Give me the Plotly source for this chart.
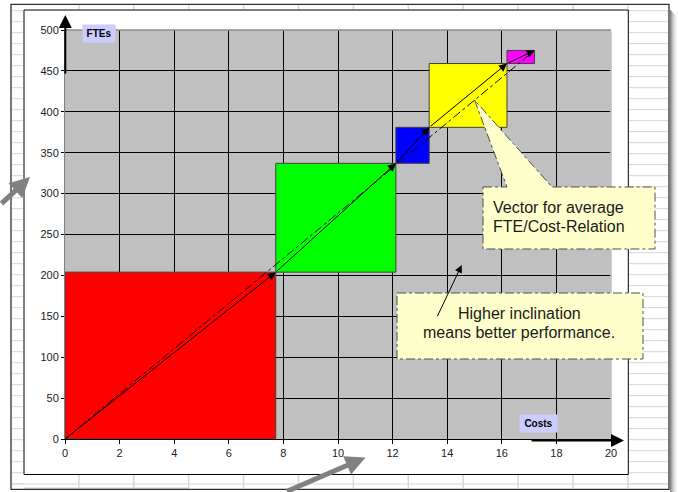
import plotly.graph_objects as go
import numpy as np

# ---- data ----
segment_costs = [7.72, 4.40, 1.22, 2.85, 1.01]
segment_ftes = [204, 133, 44, 78, 16]
segment_colors = ["#FF0000", "#00FF00", "#0000FF", "#FFFF00", "#FF00FF"]
x_ticks = list(range(0, 21, 2))
y_ticks = list(range(0, 501, 50))
x_label = "Costs"
y_label = "FTEs"
callout_avg = ["Vector for average", "FTE/Cost-Relation"]
callout_incl = ["Higher inclination", "means better performance."]

cum_x = np.concatenate([[0], np.cumsum(segment_costs)])
cum_y = np.concatenate([[0], np.cumsum(segment_ftes)])

# ---- figure geometry (pixel helpers for decorations) ----
W, H = 678, 492
L, T, PW, PH = 65, 30, 546, 409


def px(x):
    return (x - L) / PW


def py(y):
    return (T + PH - y) / PH


fig = go.Figure()

# rectangles
for i in range(len(segment_costs)):
    x0, x1 = cum_x[i], cum_x[i + 1]
    y0, y1 = cum_y[i], cum_y[i + 1]
    fig.add_trace(go.Scatter(
        x=[x0, x1, x1, x0, x0], y=[y0, y0, y1, y1, y0],
        mode="lines", fill="toself", fillcolor=segment_colors[i],
        line=dict(color="#404040", width=1), hoverinfo="skip", showlegend=False))

# average vector (dash-dot)
fig.add_trace(go.Scatter(
    x=[cum_x[0], cum_x[-1]], y=[cum_y[0], cum_y[-1]], mode="lines",
    line=dict(color="#111111", width=1, dash="dashdot"),
    hoverinfo="skip", showlegend=False))

annotations = []
# segment vectors
for i in range(len(segment_costs)):
    annotations.append(dict(
        x=cum_x[i + 1], y=cum_y[i + 1], ax=cum_x[i], ay=cum_y[i],
        xref="x", yref="y", axref="x", ayref="y", text="",
        showarrow=True, arrowhead=2, arrowsize=1.6, arrowwidth=1,
        arrowcolor="#000000"))

shapes = []
light = "#D6D6D6"
# spreadsheet background decorations
for yy in np.arange(10.7, 489, 11.0):
    shapes.append(dict(type="line", xref="paper", yref="paper",
                       x0=px(629), x1=px(668), y0=py(yy), y1=py(yy),
                       line=dict(color=light, width=1), layer="below"))
    shapes.append(dict(type="line", xref="paper", yref="paper",
                       x0=px(12), x1=px(23), y0=py(yy), y1=py(yy),
                       line=dict(color=light, width=1), layer="below"))
for xx in np.arange(24 + 54.9, 669, 54.9):
    shapes.append(dict(type="line", xref="paper", yref="paper",
                       x0=px(xx), x1=px(xx), y0=py(4.5), y1=py(9.5),
                       line=dict(color=light, width=1.5), layer="below"))
    shapes.append(dict(type="line", xref="paper", yref="paper",
                       x0=px(xx), x1=px(xx), y0=py(475), y1=py(488),
                       line=dict(color=light, width=1.5), layer="below"))
shapes.append(dict(type="line", xref="paper", yref="paper",
                   x0=px(12), x1=px(668), y0=py(484), y1=py(484),
                   line=dict(color=light, width=1), layer="below"))
# scrollbar-like strip
shapes.append(dict(type="rect", xref="paper", yref="paper",
                   x0=px(24), x1=px(189), y0=py(490), y1=py(487.5),
                   fillcolor="#D8D4CC", line=dict(width=0), layer="below"))
# shadow on the right
for k, c in enumerate(["#8A8A8A", "#A5A5A5", "#BDBDBD", "#D0D0D0", "#E0E0E0", "#EBEBEB", "#F4F4F4"]):
    shapes.append(dict(type="rect", xref="paper", yref="paper",
                       x0=px(670 + k), x1=px(671 + k), y0=py(10 + k), y1=py(492),
                       fillcolor=c, line=dict(width=0), layer="below"))
# outer frame
shapes.append(dict(type="rect", xref="paper", yref="paper",
                   x0=px(11), x1=px(669), y0=py(4.3), y1=py(489.3),
                   line=dict(color="#303030", width=1.3), layer="below"))
# chart area border
shapes.append(dict(type="rect", xref="paper", yref="paper",
                   x0=px(24), x1=px(628.3), y0=py(10), y1=py(474.5),
                   line=dict(color="#000000", width=1), layer="below"))

# top border of plot area in gray, hide right-edge grid line
shapes.append(dict(type="line", xref="paper", yref="paper",
                   x0=0, x1=1, y0=1, y1=1,
                   line=dict(color="#8C8C8C", width=1.5)))
shapes.append(dict(type="line", xref="paper", yref="paper",
                   x0=1, x1=1, y0=0.002, y1=0.997,
                   line=dict(color="#C0C0C0", width=1.5)))

# callout 1 (wedge + box)
c1 = [(483, 187), (507, 187), (474.5, 100), (552, 187), (655, 187), (655, 249), (483, 249)]
path1 = "M " + " L ".join(f"{px(a):.5f},{py(b):.5f}" for a, b in c1) + " Z"
shapes.append(dict(type="path", xref="paper", yref="paper", path=path1,
                   fillcolor="#FFFFCC", line=dict(color="#505050", width=1, dash="dashdot")))
# callout 2 box
shapes.append(dict(type="rect", xref="paper", yref="paper",
                   x0=px(397), x1=px(643), y0=py(293), y1=py(359),
                   fillcolor="#FFFFCC", line=dict(color="#505050", width=1, dash="dashdot")))

txt_font = dict(family="Liberation Sans, Arial, sans-serif", size=16, color="#1A1A1A")
lab_font = dict(family="Liberation Sans, Arial, sans-serif", size=10, color="#000")
annotations += [
    dict(xref="paper", yref="paper", x=px(491), y=py(207), text=callout_avg[0],
         showarrow=False, xanchor="left", yanchor="middle", font=txt_font),
    dict(xref="paper", yref="paper", x=px(491), y=py(226), text=callout_avg[1],
         showarrow=False, xanchor="left", yanchor="middle", font=txt_font),
    dict(xref="paper", yref="paper", x=px(519), y=py(313), text=callout_incl[0],
         showarrow=False, xanchor="center", yanchor="middle", font=txt_font),
    dict(xref="paper", yref="paper", x=px(519), y=py(332.5), text=callout_incl[1],
         showarrow=False, xanchor="center", yanchor="middle", font=txt_font),
    # inclination arrow
    dict(xref="paper", yref="paper", x=px(461.7), y=py(265), ax=-25, ay=52.7,
         text="", showarrow=True, arrowhead=2, arrowsize=1.5, arrowwidth=1,
         arrowcolor="#000000"),
    # axis labels
    dict(xref="paper", yref="paper", x=px(99), y=py(33.5), text=f"<b>{y_label}</b>",
         showarrow=False, bgcolor="#CCCCFF", width=32, height=17, borderpad=0,
         xanchor="center", yanchor="middle", font=lab_font),
    dict(xref="paper", yref="paper", x=px(538.6), y=py(423.3), text=f"<b>{x_label}</b>",
         showarrow=False, bgcolor="#CCCCFF", width=37, height=17, borderpad=0,
         xanchor="center", yanchor="middle", font=lab_font),
    # axis arrows
    dict(xref="paper", yref="paper", x=px(65.3), y=py(15), ax=0, ay=60, text="",
         showarrow=True, arrowhead=2, arrowsize=1.3, arrowwidth=2, arrowcolor="#000"),
    dict(xref="paper", yref="paper", x=px(624), y=py(440.5), ax=-94, ay=0, text="",
         showarrow=True, arrowhead=2, arrowsize=1.3, arrowwidth=2, arrowcolor="#000"),
    # big gray pointer arrows
    dict(xref="paper", yref="paper", x=px(30), y=py(177), ax=-36, ay=28, text="",
         showarrow=True, arrowhead=2, arrowsize=0.8, arrowwidth=5, arrowcolor="#808080"),
    dict(xref="paper", yref="paper", x=px(365.5), y=py(457.5), ax=-80, ay=37, text="",
         showarrow=True, arrowhead=2, arrowsize=0.8, arrowwidth=5, arrowcolor="#808080"),
]

tick_font = dict(family="Liberation Sans, Arial, sans-serif", size=11, color="#222222")
fig.update_layout(
    width=W, height=H, autosize=False,
    margin=dict(l=L, r=W - L - PW, t=T, b=H - T - PH, pad=0),
    paper_bgcolor="#FFFFFF", plot_bgcolor="#C0C0C0",
    showlegend=False,
    xaxis=dict(range=[0, 20], tickvals=x_ticks, showgrid=True, gridcolor="#000000",
               gridwidth=1, zeroline=False, showline=True, linecolor="#000000",
               linewidth=1, ticks="outside", ticklen=4, tickcolor="#000000",
               tickfont=tick_font, fixedrange=True),
    yaxis=dict(range=[0, 500], tickvals=y_ticks, showgrid=True, gridcolor="#000000",
               gridwidth=1, zeroline=False, showline=True, linecolor="#808080",
               linewidth=1, ticks="outside", ticklen=3, tickcolor="#000000",
               tickfont=tick_font, fixedrange=True),
    shapes=shapes,
    annotations=annotations,
)

fig.write_html("out.html", config={"displayModeBar": False},
               post_script="document.body.style.margin='0';")
